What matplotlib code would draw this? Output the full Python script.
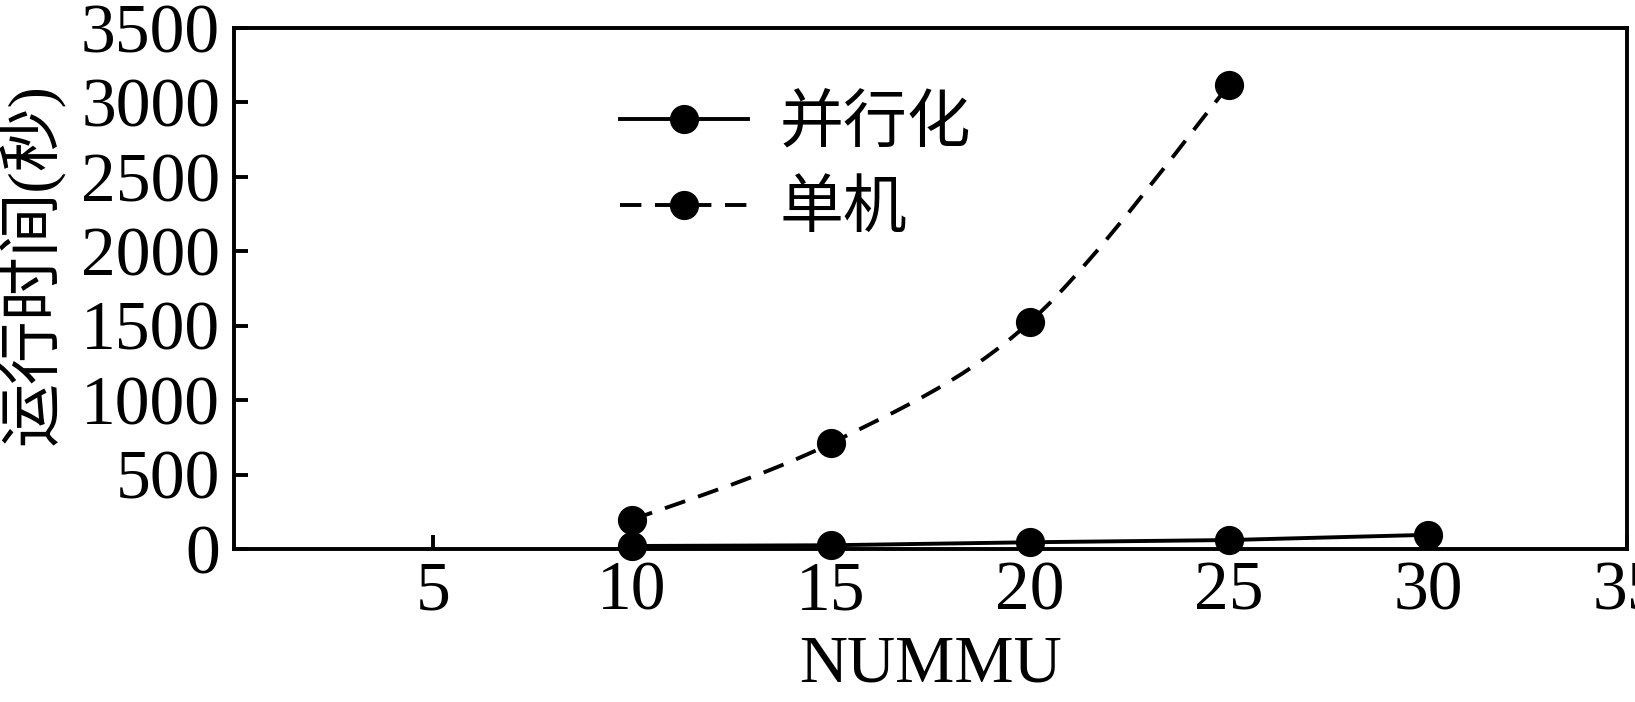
import numpy as np
import matplotlib
matplotlib.use("Agg")
import matplotlib.pyplot as plt
from matplotlib.path import Path
from matplotlib.patches import PathPatch
from matplotlib.lines import Line2D

plt.rcParams['font.family'] = ['Liberation Serif', 'Noto Sans CJK SC']

# data
nummu = [10, 15, 20, 25, 30]
parallel_time = [20, 25, 45, 60, 95]
single_nummu = [10, 15, 20, 25]
single_time = [195, 710, 1525, 3115]

x_ticks = [5, 10, 15, 20, 25, 30, 35]
y_ticks = [0, 500, 1000, 1500, 2000, 2500, 3000, 3500]
series_names = ["并行化", "单机"]

LW = 2.8
MS = 20
DASH = (0, (5.5, 3.5))

fig = plt.figure(figsize=(16.35, 7.02), dpi=100)
ax = fig.add_axes([0.1431, 0.218, 0.852, 0.742])

# parallel: straight segments
ax.plot(nummu, parallel_time, color="black", lw=LW, marker="o", ms=MS,
        clip_on=False, zorder=3)

# single machine: smooth dashed curve through the points (catmull-rom bezier)
px = [single_nummu[0]] + single_nummu + [single_nummu[-1]]
py = [single_time[0]] + single_time + [single_time[-1]]
verts = [(single_nummu[0], single_time[0])]
codes = [Path.MOVETO]
for i in range(1, len(px) - 2):
    c1 = (px[i] + (px[i + 1] - px[i - 1]) / 6, py[i] + (py[i + 1] - py[i - 1]) / 6)
    c2 = (px[i + 1] - (px[i + 2] - px[i]) / 6, py[i + 1] - (py[i + 2] - py[i]) / 6)
    verts += [c1, c2, (px[i + 1], py[i + 1])]
    codes += [Path.CURVE4] * 3
curve = PathPatch(Path(verts, codes), fill=False, edgecolor="black", lw=LW,
                  linestyle=DASH, zorder=2)
ax.add_patch(curve)
ax.plot(single_nummu, single_time, ls="none", color="black", marker="o", ms=MS,
        zorder=3)

ax.set_xlim(0, 35)
ax.set_ylim(0, 3500)
ax.set_xticks(x_ticks)
ax.set_yticks(y_ticks)

for s in ax.spines.values():
    s.set_linewidth(LW)
ax.tick_params(direction="in", length=10, width=LW, labelsize=50)
ax.tick_params(axis="x", pad=9)
ax.tick_params(axis="y", pad=10)

ax.set_xlabel("NUMMU", fontsize=48, labelpad=7)
ax.set_ylabel("运行时间(秒)", fontsize=46)
ax.yaxis.set_label_coords(-0.121, 0.547)

handles = [
    Line2D([], [], color="black", lw=LW, marker="o", ms=MS),
    Line2D([], [], color="black", lw=LW, ls=DASH, marker="o", ms=MS),
]
ax.legend(handles, series_names, loc="upper left", bbox_to_anchor=(0.277, 0.87),
          frameon=False, fontsize=46, handlelength=2.0, handletextpad=0.5,
          borderpad=0, borderaxespad=0, labelspacing=0.42)

fig.savefig("out.png", dpi=100)
